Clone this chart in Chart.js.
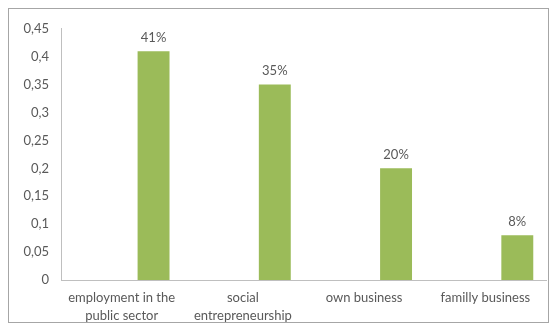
<!DOCTYPE html>
<html>
<head>
<meta charset="utf-8">
<script src="https://cdn.jsdelivr.net/npm/chart.js@4"></script>
<style>
  body { margin: 0; background: #fff; }
  #frame {
    position: absolute; left: 8px; top: 8px;
    width: 539px; height: 313px;
    border: 1px solid #a6a6a6;
  }
</style>
</head>
<body>
<div id="frame"><canvas id="choiceChart" width="539" height="313"></canvas></div>
<script>
// Career choice shares
const categories = [['employment in the', 'public sector'], ['social', 'entrepreneurship'], 'own business', 'familly business'];
const shares = [0.41, 0.35, 0.20, 0.08];
const shareLabels = ['41%', '35%', '20%', '8%'];
const yTickLabels = ['0', '0,05', '0,1', '0,15', '0,2', '0,25', '0,3', '0,35', '0,4', '0,45'];
const emptySeries = [null, null, null, null];

// Writes the percentage above each bar of the last dataset
const valueLabelPlugin = {
  id: 'valueLabels',
  afterDatasetsDraw(chart) {
    const ctx = chart.ctx;
    const meta = chart.getDatasetMeta(2);
    ctx.save();
    ctx.font = '13px Lato, "Open Sans", sans-serif';
    ctx.fillStyle = '#595959';
    ctx.textAlign = 'center';
    ctx.textBaseline = 'bottom';
    meta.data.forEach((bar, i) => {
      ctx.fillText(shareLabels[i], bar.x, bar.y - 7);
    });
    ctx.restore();
  }
};

const ctxChoice = document.getElementById('choiceChart').getContext('2d');
const choiceChart = new Chart(ctxChoice, {
  type: 'bar',
  data: {
    labels: categories,
    datasets: [
      { data: emptySeries, backgroundColor: '#9bbb59' },
      { data: emptySeries, backgroundColor: '#9bbb59' },
      { data: shares, backgroundColor: '#9bbb59' }
    ]
  },
  options: {
    responsive: false,
    animation: false,
    layout: { padding: { top: 19, right: 2, left: 0, bottom: 0 } },
    plugins: { legend: { display: false }, tooltip: { enabled: false } },
    datasets: { bar: { categoryPercentage: 0.79, barPercentage: 1 } },
    scales: {
      x: {
        grid: { display: false, drawTicks: false },
        border: { color: '#bfbfbf' },
        afterFit(axis) { axis.height = 42; },
        ticks: {
          color: '#595959',
          font: { family: 'Lato, "Open Sans", sans-serif', size: 13, lineHeight: 1.4 },
          padding: 9,
          maxRotation: 0,
          autoSkip: false
        }
      },
      y: {
        min: 0,
        max: 0.45,
        grid: { display: false, drawTicks: false },
        border: { color: '#bfbfbf' },
        afterFit(axis) { axis.width = 52; },
        ticks: {
          stepSize: 0.05,
          color: '#595959',
          padding: 12,
          font: { family: 'Lato, "Open Sans", sans-serif', size: 13 },
          callback: (value, index) => yTickLabels[index]
        }
      }
    }
  },
  plugins: [valueLabelPlugin]
});
</script>
</body>
</html>
